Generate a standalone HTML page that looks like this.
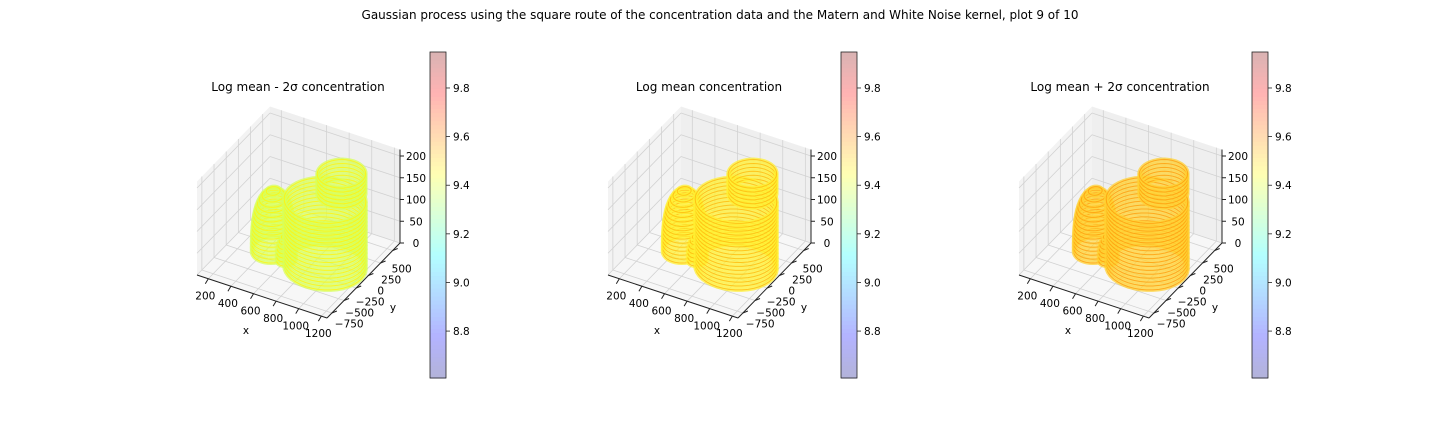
<!DOCTYPE html>
<html><head><meta charset="utf-8">
<style>
html,body{margin:0;padding:0;background:#fff;}
svg{display:block;font-family:"DejaVu Sans","Liberation Sans",sans-serif;}
</style></head>
<body>
<svg id="fig" width="1440" height="432" viewBox="0 0 1440 432" xmlns="http://www.w3.org/2000/svg">
<text x="720" y="19" font-size="12" text-anchor="middle">Gaussian process using the square route of the concentration data and the Matern and White Noise kernel, plot 9 of 10</text>
</svg>
<script>
// ---- data ----
const panelTitles = ["Log mean - 2σ concentration", "Log mean concentration", "Log mean + 2σ concentration"];
const panelValues = [9.38, 9.47, 9.52];      // surface colour value per panel
const panelInnerValues = [9.46, 9.54, 9.58]; // inner contour colour value
const xTicks = [200, 400, 600, 800, 1000, 1200];
const yTicks = [500, 250, 0, -250, -500, -750];
const yTickLabels = ["500", "250", "0", "\u2212250", "\u2212500", "\u2212750"];
const zTicks = [0, 50, 100, 150, 200];
const cbTicks = [8.8, 9.0, 9.2, 9.4, 9.6, 9.8];
const cbMin = 8.607, cbMax = 9.948;
// blob lobes: centre x, centre y, radius x, radius y, z base, z top, shape (0 cylinder, 1 hump)
const lobeCx = [445, 905, 960, 600];
const lobeCy = [-85, -90, 120, -175];
const lobeRx = [160, 320, 185, 70];
const lobeRy = [240, 390, 250, 110];
const lobeZ0 = [0, 0, 150, 0];
const lobeZ1 = [140, 155, 200, 60];
const lobeShape = [1, 0, 0, 1];

const NS = "http://www.w3.org/2000/svg";
const svg = document.getElementById('fig');
const xmin = 100, xmax = 1250, ymin = -850, ymax = 650, zmax = 215;
function jet(t){
  const c = v => Math.max(0, Math.min(1, v));
  return [c(1.5 - Math.abs(4*t - 3)), c(1.5 - Math.abs(4*t - 2)), c(1.5 - Math.abs(4*t - 1))];
}
function col(v, a){
  const t = (v - cbMin) / (cbMax - cbMin);
  const j = jet(t);
  return 'rgb(' + j.map(x => Math.round(255*(a*x + 1 - a))).join(',') + ')';
}
function el(tag, attrs, parent){
  const e = document.createElementNS(NS, tag);
  for (const k in attrs) e.setAttribute(k, attrs[k]);
  (parent || svg).appendChild(e);
  return e;
}
const zPx = 87/200;

for (let p = 0; p < 3; p++){
  const ox = p * 411;
  const L = [197+ox, 275], F = [327+ox, 318], R = [400+ox, 243];
  function P(x, y, z){
    const u = (x - xmin)/(xmax - xmin), v = (y - ymin)/(ymax - ymin);
    return [L[0] + u*(F[0]-L[0]) + v*(R[0]-F[0]), L[1] + u*(F[1]-L[1]) + v*(R[1]-F[1]) - z*zPx];
  }
  const g = el('g', {});
  
  
  const pts = a => a.map(q => q.join(',')).join(' ');
  // panes
  const lp = el('polygon', {points: pts([P(xmin,ymin,0),P(xmin,ymax,0),P(xmin,ymax,zmax),P(xmin,ymin,zmax)]), fill:'#f3f3f3'}, g);
   
  const rp = el('polygon', {points: pts([P(xmin,ymax,0),P(xmax,ymax,0),P(xmax,ymax,zmax),P(xmin,ymax,zmax)]), fill:'#efefef'}, g);
   
  const fp = el('polygon', {points: pts([P(xmin,ymin,0),P(xmax,ymin,0),P(xmax,ymax,0),P(xmin,ymax,0)]), fill:'#f7f7f7'}, g);
   
  const line = (a, b, s, w) => el('line', {x1:a[0], y1:a[1], x2:b[0], y2:b[1], stroke:s, 'stroke-width':w||0.8}, g);
  // grid
  xTicks.forEach(x => { line(P(x,ymin,0), P(x,ymax,0), '#d2d2d2'); line(P(x,ymax,0), P(x,ymax,zmax), '#d2d2d2'); });
  yTicks.forEach(y => { line(P(xmin,y,0), P(xmax,y,0), '#d2d2d2'); line(P(xmin,y,0), P(xmin,y,zmax), '#d2d2d2'); });
  zTicks.forEach(z => { line(P(xmin,ymin,z), P(xmin,ymax,z), '#d2d2d2'); line(P(xmin,ymax,z), P(xmax,ymax,z), '#d2d2d2'); });
  // axis lines
  line(P(xmin,ymin,0), P(xmax,ymin,0), '#222', 1);
  line(P(xmax,ymin,0), P(xmax,ymax,0), '#222', 1);
  line(P(xmax,ymax,0), P(xmax,ymax,zmax), '#222', 1);
  // ticks + labels
  xTicks.forEach((x, i) => {
    const a = P(x,ymin,0); line(a, [a[0]-3, a[1]+5], '#222', 1);
    const t = el('text', {x: a[0]-3, y: a[1]+21, 'font-size': 10.5, 'text-anchor':'middle'}, g);
     
    t.textContent = x;
  });
  yTicks.forEach((y, i) => {
    const a = P(xmax,y,0); line(a, [a[0]+5, a[1]-2], '#222', 1);
    const f = (y - ymin)/(ymax - ymin);
    const t = el('text', {x: a[0]+18 - 10*f, y: a[1]+14 + 9*f, 'font-size': 10.5, 'text-anchor':'middle'}, g);
     
    t.textContent = yTickLabels[i];
  });
  zTicks.forEach(z => {
    const a = P(xmax,ymax,z); line(a, [a[0]+4, a[1]], '#222', 1);
    const t = el('text', {x: a[0]+16, y: a[1]+4, 'font-size': 10.5, 'text-anchor':'middle'}, g);
     
    t.textContent = z;
  });
  const xl = el('text', {x: 246+ox, y: 334, 'font-size': 10.5, 'text-anchor':'middle'}, g);
    xl.textContent = 'x';
  const yl = el('text', {x: 393+ox, y: 311, 'font-size': 10.5, 'text-anchor':'middle'}, g);
    yl.textContent = 'y';
  // blob contours
  const outer = col(panelValues[p], 0.8), inner = col(panelInnerValues[p], 0.95);
  const rings = [];
  for (let k = 0; k < lobeCx.length; k++){
    for (let z = lobeZ0[k]; z <= lobeZ1[k]; z += 9){
      let s = 1;
      if (lobeShape[k] === 1){ const q = z / lobeZ1[k]; s = Math.sqrt(Math.max(0.05, 1 - q*q*q)); }
      rings.push({k, z, s});
    }
  }
  rings.sort((a, b) => a.z - b.z);
  const bg = el('g', {}, g);
   
  rings.forEach(r => {
    const ptsA = [];
    for (let i = 0; i < 40; i++){
      const th = i/40*2*Math.PI;
      ptsA.push(P(lobeCx[r.k] + lobeRx[r.k]*r.s*Math.cos(th), lobeCy[r.k] + lobeRy[r.k]*r.s*Math.sin(th), r.z));
    }
    const pl = el('polygon', {points: pts(ptsA), fill: 'none', stroke: outer, 'stroke-width': 4, 'stroke-opacity': 0.75}, bg);
     
    const pl2 = el('polygon', {points: pts(ptsA), fill: 'none', stroke: inner, 'stroke-width': 1, 'stroke-opacity': 0.8}, bg);
     
  });
  // subplot title
  const st = el('text', {x: 298+ox, y: 91, 'font-size': 12, 'text-anchor':'middle'}, g);
   
  st.textContent = panelTitles[p];
  // colorbar
  const cx = 430+ox, cy0 = 52, cy1 = 378;
  const cb = el('g', {}, g);
   
  const N = 80;
  for (let i = 0; i < N; i++){
    const v = cbMax - (i+0.5)/N*(cbMax - cbMin);
    el('rect', {x: cx, y: cy0 + i*(cy1-cy0)/N, width: 16, height: (cy1-cy0)/N + 0.6, fill: col(v, 0.3)}, cb);
  }
  el('rect', {x: cx, y: cy0, width: 16, height: cy1-cy0, fill:'none', stroke:'#222', 'stroke-width':0.8}, cb);
  cbTicks.forEach(v => {
    const y = cy1 - (v - cbMin)/(cbMax - cbMin)*(cy1 - cy0);
    el('line', {x1: cx+16, y1: y, x2: cx+20, y2: y, stroke:'#222', 'stroke-width':0.8}, cb);
    const t = el('text', {x: cx+23, y: y+4, 'font-size': 10.5}, cb);
     
    t.textContent = v.toFixed(1);
  });
}
</script>
</body></html>
